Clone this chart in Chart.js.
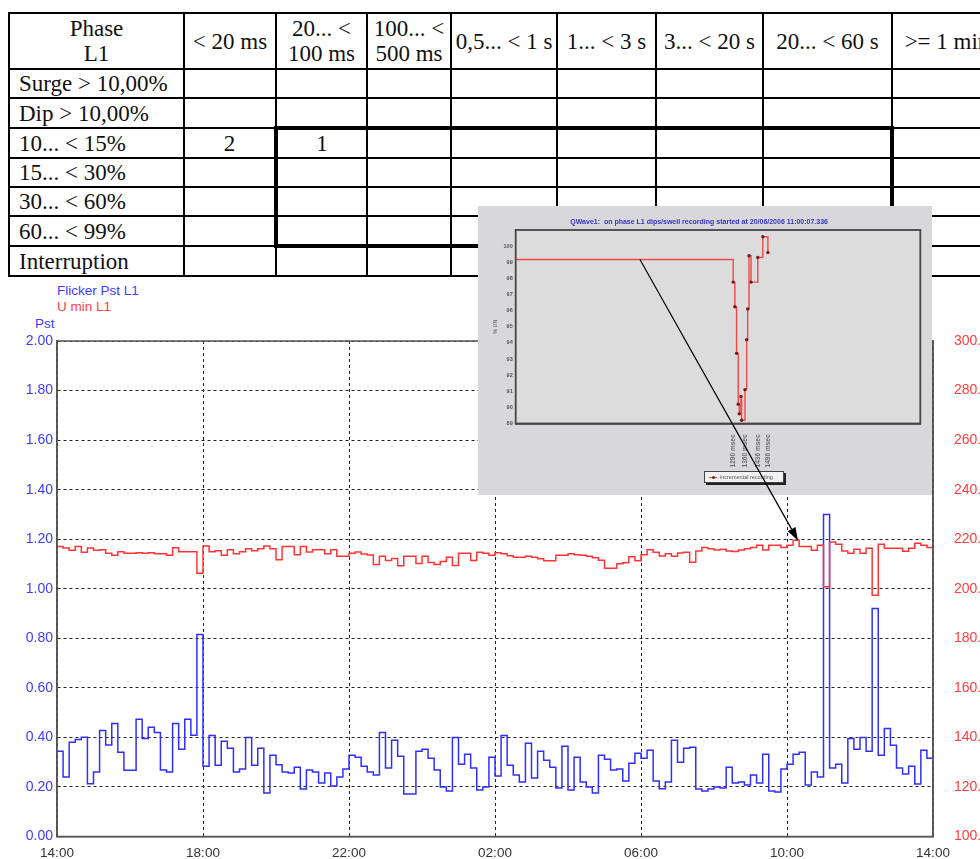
<!DOCTYPE html>
<html>
<head>
<meta charset="utf-8">
<title>Flicker Pst / U min L1</title>
<script src="https://cdn.jsdelivr.net/npm/chart.js@4.4.1/dist/chart.umd.min.js"></script>
<style>
  html, body { margin: 0; padding: 0; background: #fff; }
  body {
    width: 980px; height: 859px; overflow: hidden; position: relative;
    font-family: "Liberation Sans", Arial, sans-serif;
  }

  /* ─── Event table ─────────────────────────────────────────── */
  #events {
    position: absolute; left: 8px; top: 12px;
    border-collapse: collapse; table-layout: fixed;
    font-family: "Liberation Serif", "Times New Roman", serif;
    font-size: 23px; color: #111;
  }
  #events th, #events td {
    border: 2px solid #000; padding: 0; font-weight: normal;
    line-height: 25px; white-space: nowrap; overflow: hidden;
  }
  #events th { height: 54px; text-align: center; }
  #events td { height: 27px; text-align: center; }
  #events td.lbl { text-align: left; padding-left: 9px; }
  #events .bx-top    { border-top: 4px solid #000; }
  #events .bx-bottom { border-bottom: 4px solid #000; }
  #events .bx-left   { border-left: 4px solid #000; }
  #events .bx-right  { border-right: 4px solid #000; }

  /* ─── Trend chart labels ──────────────────────────────────── */
  .serie { position: absolute; font-size: 13.5px; line-height: 15px; }
  #trend { position: absolute; left: 0; top: 280px; }

  /* ─── Inset screenshot ────────────────────────────────────── */
  #inset {
    position: absolute; left: 478px; top: 206px; width: 454px; height: 289px;
    background: #d8d8da;
  }
  #inset canvas { position: absolute; left: 0; top: 0; }
  #insetLegend {
    position: absolute; left: 226px; top: 265px; width: 78px; height: 10px;
    background: #f2f2f2; border: 1px solid #444; box-shadow: 2px 2px 0 #222;
    font-size: 5.5px; line-height: 10px; color: #555; white-space: nowrap;
  }
  #insetLegend .mk {
    display: inline-block; width: 8px; height: 1px; background: #e05050;
    vertical-align: middle; margin: 0 3px 0 4px; position: relative;
  }
  #insetLegend .mk::after {
    content: ""; position: absolute; left: 2.5px; top: -1.5px;
    width: 3px; height: 3px; border-radius: 50%; background: #8b1a1a;
  }
  #arrow { position: absolute; left: 0; top: 0; pointer-events: none; }
</style>
</head>
<body>

<table id="events"></table>

<div class="serie" style="left:57px; top:283px; color:#3c3cff;">Flicker Pst L1</div>
<div class="serie" style="left:57px; top:299px; color:#ff3c3c;">U min L1</div>
<div class="serie" style="left:35px; top:316px; color:#3c3cff;">Pst</div>

<canvas id="trend" width="1010" height="585"></canvas>

<div id="inset">
  <canvas id="dip" width="454" height="289"></canvas>
  <div id="insetLegend"><span class="mk"></span><span id="insetLegendText"></span></div>
</div>

<canvas id="arrow" width="980" height="859"></canvas>

<script>
/* ─── Table data ───────────────────────────────────────────────── */
const PHASE_HEADER   = ['Phase', 'L1'];
const DURATION_COLS  = [['< 20 ms'], ['20... <', '100 ms'], ['100... <', '500 ms'],
                        ['0,5... < 1 s'], ['1... < 3 s'], ['3... < 20 s'],
                        ['20... < 60 s'], ['>= 1 min']];
const COL_WIDTHS     = [175, 92, 91, 84, 106, 99, 107, 129, 110];
const EVENT_ROWS     = ['Surge > 10,00%', 'Dip > 10,00%', '10... < 15%', '15... < 30%',
                        '30... < 60%', '60... < 99%', 'Interruption'];
const ROW_10_15      = [2, 1, '', '', '', '', '', ''];
const EVENT_COUNTS   = [[], [], ROW_10_15, [], [], [], []];
// highlighted block: rows 2..5, duration columns 1..6
const BOX_ROWS = [2, 5];
const BOX_COLS = [1, 6];

/* ─── Trend data (10 min values from 14:00 to 14:00) ───────────── */
const HOUR_LABELS  = ['14:00', '18:00', '22:00', '02:00', '06:00', '10:00', '14:00'];
const SAMPLE_HOURS = 10 / 60;

const PST = [
    0.344, 0.240, 0.380, 0.392, 0.401, 0.213, 0.260, 0.428, 0.369, 0.456, 0.340, 0.267,
    0.267, 0.473, 0.396, 0.441, 0.420, 0.268, 0.260, 0.456, 0.352, 0.473, 0.409, 0.815,
    0.284, 0.408, 0.288, 0.384, 0.356, 0.260, 0.272, 0.400, 0.288, 0.356, 0.176, 0.328,
    0.290, 0.260, 0.256, 0.280, 0.192, 0.268, 0.260, 0.216, 0.256, 0.204, 0.240, 0.272,
    0.328, 0.320, 0.284, 0.260, 0.248, 0.420, 0.276, 0.388, 0.324, 0.172, 0.172, 0.344,
    0.352, 0.316, 0.268, 0.200, 0.184, 0.400, 0.292, 0.332, 0.276, 0.188, 0.200, 0.320,
    0.244, 0.408, 0.288, 0.248, 0.220, 0.376, 0.236, 0.344, 0.308, 0.280, 0.196, 0.364,
    0.188, 0.320, 0.220, 0.200, 0.176, 0.328, 0.312, 0.268, 0.272, 0.224, 0.296, 0.336,
    0.316, 0.348, 0.224, 0.193, 0.220, 0.388, 0.300, 0.356, 0.360, 0.192, 0.184, 0.192,
    0.200, 0.196, 0.280, 0.216, 0.220, 0.208, 0.248, 0.216, 0.332, 0.184, 0.180, 0.272,
    0.292, 0.332, 0.340, 0.208, 0.260, 0.240, 1.300, 0.276, 0.292, 0.216, 0.396, 0.352,
    0.400, 0.344, 0.920, 0.328, 0.436, 0.368, 0.276, 0.252, 0.284, 0.212, 0.348, 0.316,
];

const UMIN = [
    217.1, 216.4, 215.5, 217.1, 214.7, 216.4, 215.5, 215.7, 214.3, 213.5, 214.9, 214.3,
    214.3, 214.5, 214.3, 214.5, 214.1, 214.1, 213.5, 216.5, 214.9, 214.9, 214.9, 206.3,
    217.3, 214.9, 215.3, 213.5, 215.7, 214.1, 214.9, 216.1, 215.3, 216.1, 217.3, 216.1,
    211.7, 217.1, 217.1, 213.7, 217.1, 214.8, 215.7, 215.7, 214.1, 215.7, 213.1, 213.1,
    214.3, 214.8, 214.0, 213.6, 209.8, 213.1, 211.4, 212.2, 209.3, 213.1, 213.1, 210.2,
    213.1, 210.6, 209.8, 211.0, 212.7, 209.4, 214.3, 214.3, 211.4, 214.7, 214.3, 213.5,
    214.5, 214.1, 213.3, 212.7, 212.7, 213.1, 212.7, 212.1, 211.3, 211.3, 213.5, 213.5,
    214.1, 213.7, 213.5, 213.1, 212.5, 211.5, 208.3, 208.3, 210.1, 210.5, 212.9, 211.3,
    213.7, 215.7, 214.7, 213.2, 214.1, 213.1, 214.4, 214.7, 210.7, 215.2, 216.7, 216.1,
    215.6, 215.9, 215.2, 215.0, 215.6, 216.1, 216.7, 217.6, 215.6, 217.6, 217.6, 216.7,
    217.6, 219.6, 217.1, 217.1, 215.5, 217.6, 200.8, 218.9, 218.0, 215.2, 214.3, 215.9,
    214.3, 216.3, 197.4, 218.0, 216.3, 216.3, 216.3, 215.1, 216.3, 218.4, 217.6, 216.7,
];

/* ─── Inset (dip recording) data ───────────────────────────────── */
const INSET_TITLE  = 'QWave1:  on phase L1 dips/swell recording started at 20/06/2006 11:00:07.336';
const INSET_LABEL  = 'incremental recording';
const INSET_MS     = [0, 1290, 1300, 1310, 1320, 1326, 1336, 1340, 1360, 1370, 1376, 1384, 1396, 1436, 1466, 1496];
const INSET_PCT    = [99.17, 97.77, 96.24, 93.35, 90.2, 89.6, 90.68, 89.2, 91.1, 94.2, 96.1, 99.4, 97.77, 99.3, 100.58, 99.6];
const INSET_TICKS  = [1290, 1360, 1436, 1496];

// arrow: from the inset line to the matching U min step at ~10:20
const ARROW_FROM = { ms: 737, pct: 99.17 };
const ARROW_TO   = { hour: 20.3, volt: 219.5 };

/* ─── Build the table ──────────────────────────────────────────── */
function buildTable() {
    const table = document.getElementById('events');
    const cg = document.createElement('colgroup');
    COL_WIDTHS.forEach(w => {
        const c = document.createElement('col');
        c.style.width = w + 'px';
        cg.appendChild(c);
    });
    table.appendChild(cg);
    table.style.width = COL_WIDTHS.reduce((a, b) => a + b, 0) + 'px';

    const addLines = (cell, lines) => {
        lines.forEach((t, i) => {
            if (i) cell.appendChild(document.createElement('br'));
            cell.appendChild(document.createTextNode(t));
        });
    };

    const head = document.createElement('tr');
    const th0 = document.createElement('th');
    addLines(th0, PHASE_HEADER);
    head.appendChild(th0);
    DURATION_COLS.forEach(lines => {
        const th = document.createElement('th');
        addLines(th, lines);
        head.appendChild(th);
    });
    table.appendChild(head);

    EVENT_ROWS.forEach((label, r) => {
        const tr = document.createElement('tr');
        const lbl = document.createElement('td');
        lbl.className = 'lbl';
        lbl.textContent = label;
        tr.appendChild(lbl);
        DURATION_COLS.forEach((_, c) => {
            const td = document.createElement('td');
            const v = EVENT_COUNTS[r][c];
            td.textContent = v === undefined ? '' : v;
            const inRows = r >= BOX_ROWS[0] && r <= BOX_ROWS[1];
            const inCols = c >= BOX_COLS[0] && c <= BOX_COLS[1];
            if (inCols && r === BOX_ROWS[0]) td.classList.add('bx-top');
            if (inCols && r === BOX_ROWS[1]) td.classList.add('bx-bottom');
            if (inRows && c === BOX_COLS[0]) td.classList.add('bx-left');
            if (inRows && c === BOX_COLS[1]) td.classList.add('bx-right');
            tr.appendChild(td);
        });
        table.appendChild(tr);
    });
}

/* ─── Helpers ──────────────────────────────────────────────────── */
function toSteps(values) {
    const pts = values.map((v, i) => ({ x: i * SAMPLE_HOURS, y: v }));
    // close the last 10 min step
    pts.push({ x: values.length * SAMPLE_HOURS, y: values[values.length - 1] });
    return pts;
}

const plotFrame = {
    id: 'plotFrame',
    beforeDatasetsDraw(chart, args, opts) {
        if (!opts.fill) return;
        const { ctx, chartArea: a } = chart;
        ctx.save();
        ctx.fillStyle = opts.fill;
        ctx.fillRect(a.left, a.top, a.right - a.left, a.bottom - a.top);
        ctx.restore();
    },
    afterDraw(chart, args, opts) {
        const { ctx, chartArea: a } = chart;
        ctx.save();
        ctx.strokeStyle = opts.color;
        ctx.lineWidth   = opts.width;
        ctx.strokeRect(a.left, a.top, a.right - a.left, a.bottom - a.top);
        ctx.restore();
    },
};

Chart.defaults.font.family = '"Liberation Sans", Arial, sans-serif';
Chart.defaults.animation   = false;

/* ─── Main trend chart ─────────────────────────────────────────── */
function buildTrend() {
    return new Chart(document.getElementById('trend'), {
        type: 'line',
        data: {
            datasets: [
                {
                    label: 'U min L1',
                    data: toSteps(UMIN),
                    yAxisID: 'y1',
                    stepped: true,
                    borderColor: '#ff3434',
                    borderWidth: 1.5,
                    pointRadius: 0,
                },
                {
                    label: 'Flicker Pst L1',
                    data: toSteps(PST),
                    yAxisID: 'y',
                    stepped: true,
                    borderColor: '#2e2eff',
                    borderWidth: 1.5,
                    pointRadius: 0,
                },
            ],
        },
        options: {
            responsive: false,
            devicePixelRatio: 1,
            layout: { padding: { top: 61, left: 0, right: 0, bottom: 0 } },
            plugins: {
                legend: { display: false },
                tooltip: { enabled: false },
                plotFrame: { color: '#555', width: 1.5 },
            },
            scales: {
                x: {
                    type: 'linear', min: 0, max: 24,
                    afterFit: s => { s.height = 28.5; },
                    ticks: {
                        stepSize: 4, padding: 9, autoSkip: false, maxRotation: 0,
                        color: '#333', font: { size: 13.5 },
                        callback: v => HOUR_LABELS[Math.round(v / 4)],
                    },
                    grid: { color: '#222', lineWidth: 1, drawTicks: false },
                    border: { color: '#555', width: 1.5, dash: [3, 3] },
                },
                y: {
                    position: 'left', min: 0, max: 2,
                    afterFit: s => { s.width = 57; },
                    ticks: {
                        stepSize: 0.2, padding: 4, color: '#3c3cff', font: { size: 14 },
                        callback: v => v.toFixed(2),
                    },
                    grid: { color: '#222', lineWidth: 1, drawTicks: false },
                    border: { color: '#555', width: 1.5, dash: [3, 3] },
                },
                y1: {
                    position: 'right', min: 100, max: 300,
                    afterFit: s => { s.width = 77; },
                    ticks: {
                        stepSize: 20, padding: 13, color: '#ff3c3c', font: { size: 14 },
                        callback: v => v.toFixed(2),
                    },
                    grid: { display: false },
                    border: { color: '#555', width: 1.5 },
                },
            },
        },
        plugins: [plotFrame],
    });
}

/* ─── Inset: dip recording screenshot ──────────────────────────── */
function buildInset() {
    document.getElementById('insetLegendText').textContent = INSET_LABEL;
    return new Chart(document.getElementById('dip'), {
        type: 'line',
        data: {
            datasets: [{
                label: INSET_LABEL,
                data: INSET_MS.map((x, i) => ({ x, y: INSET_PCT[i] })),
                stepped: true,
                borderColor: '#f04848',
                borderWidth: 1.4,
                pointRadius: ctx => (ctx.dataIndex === 0 ? 0 : 1.7),
                pointBackgroundColor: '#7a1616',
                pointBorderWidth: 0,
            }],
        },
        options: {
            responsive: false,
            devicePixelRatio: 1,
            layout: { padding: { top: 0, left: 0, right: 11.7, bottom: 0 } },
            plugins: {
                legend: { display: false },
                tooltip: { enabled: false },
                title: {
                    display: true, text: INSET_TITLE, color: '#3434c8',
                    font: { size: 7, weight: 'bold' },
                    padding: { top: 12, bottom: 3.6 },
                },
                plotFrame: { color: '#454545', width: 1.8, fill: '#dcdcdc' },
            },
            scales: {
                x: {
                    type: 'linear', min: 0, max: 2400,
                    afterFit: s => { s.height = 71.5; },
                    afterBuildTicks: s => { s.ticks = INSET_TICKS.map(v => ({ value: v })); },
                    ticks: {
                        autoSkip: false, minRotation: 90, maxRotation: 90, padding: 3,
                        color: '#6a6a6a', font: { size: 6.5, weight: 'bold' },
                        callback: v => v + ' msec',
                    },
                    grid: { display: false },
                    border: { color: '#454545', width: 1.8 },
                },
                y: {
                    min: 89, max: 101,
                    afterFit: s => { s.width = 37.7; },
                    ticks: {
                        stepSize: 1, padding: 3, color: '#555', font: { size: 5.5, weight: 'bold' },
                        callback: v => (v > 100 ? '' : String(v)),
                    },
                    title: { display: true, text: '% UN', color: '#555', font: { size: 5.5 }, padding: { top: 14, bottom: 2 } },
                    grid: { color: '#9a9a9a', lineWidth: 1, drawTicks: false },
                    border: { color: '#454545', width: 1.8, dash: [2, 2] },
                },
            },
        },
        plugins: [plotFrame],
    });
}

/* ─── Arrow from inset to trend ────────────────────────────────── */
function drawArrow(trend, inset) {
    const insetEl = document.getElementById('inset');
    const trendEl = document.getElementById('trend');
    const sx = insetEl.offsetLeft + inset.scales.x.getPixelForValue(ARROW_FROM.ms);
    const sy = insetEl.offsetTop  + inset.scales.y.getPixelForValue(ARROW_FROM.pct);
    const ex = trendEl.offsetLeft + trend.scales.x.getPixelForValue(ARROW_TO.hour);
    const ey = trendEl.offsetTop  + trend.scales.y1.getPixelForValue(ARROW_TO.volt);

    const ctx = document.getElementById('arrow').getContext('2d');
    const ang = Math.atan2(ey - sy, ex - sx);
    const len = 13, half = 4.5;
    const bx = ex - len * Math.cos(ang), by = ey - len * Math.sin(ang);

    ctx.strokeStyle = '#000';
    ctx.fillStyle   = '#000';
    ctx.lineWidth   = 1.2;
    ctx.beginPath();
    ctx.moveTo(sx, sy);
    ctx.lineTo(bx, by);
    ctx.stroke();

    ctx.beginPath();
    ctx.moveTo(ex, ey);
    ctx.lineTo(bx + half * Math.sin(ang), by - half * Math.cos(ang));
    ctx.lineTo(bx - half * Math.sin(ang), by + half * Math.cos(ang));
    ctx.closePath();
    ctx.fill();
}

buildTable();
const trendChart = buildTrend();
const insetChart = buildInset();
drawArrow(trendChart, insetChart);
</script>
</body>
</html>
